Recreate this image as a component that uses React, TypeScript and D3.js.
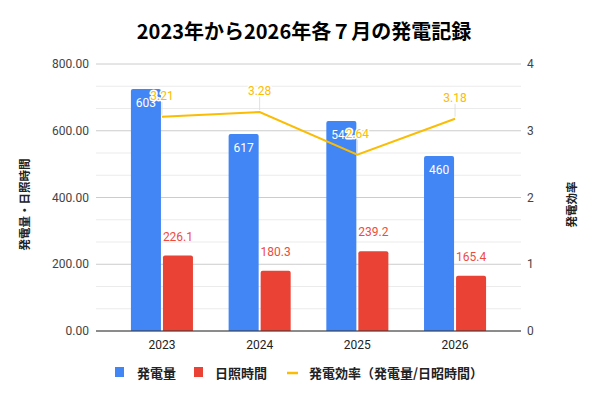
import React from "react";
import * as d3 from "d3";

const years = ["2023", "2024", "2025", "2026"];
const generation = [725, 590, 629, 524];
const generationLabels = ["603", "617", "542", "460"];
const sunshine = [226.1, 180.3, 239.2, 165.4];
const efficiency = [3.21, 3.28, 2.64, 3.18];
const leftTicks = [0, 200, 400, 600, 800];
const rightTicks = [0, 1, 2, 3, 4];

const W = 600;
const H = 401;
const plot = { left: 96, right: 521, top: 64, bottom: 331 };
const BLUE = "#4285f4";
const RED = "#ea4335";
const YELLOW = "#fbbc04";
const FONT = "Roboto, 'Noto Sans CJK JP', sans-serif";
const JFONT = "'Noto Sans CJK JP', Roboto, sans-serif";

function topRoundedRect(x: number, y: number, w: number, h: number, r: number) {
  const rr = Math.min(r, h, w / 2);
  return `M${x},${y + h}V${y + rr}Q${x},${y} ${x + rr},${y}H${x + w - rr}Q${x + w},${y} ${x + w},${y + rr}V${y + h}Z`;
}

export default function App() {
  const x = d3
    .scaleBand<string>()
    .domain(years)
    .range([plot.left, plot.right])
    .paddingInner(0.365)
    .paddingOuter(0.3575);
  const inner = d3
    .scaleBand<number>()
    .domain([0, 1])
    .range([0, x.bandwidth()])
    .paddingInner(0.0625);
  const yL = d3.scaleLinear().domain([0, 800]).range([plot.bottom, plot.top]);
  const yR = d3.scaleLinear().domain([0, 4]).range([plot.bottom, plot.top]);
  const gridVals = d3.range(0, 800.001, 800 / 12);
  const cx = (y: string) => (x(y) as number) + x.bandwidth() / 2;
  const line = d3
    .line<number>()
    .x((_, i) => cx(years[i]))
    .y((d) => yR(d));

  return (
    <svg
      width={W}
      height={H}
      style={{ position: "absolute", left: 0, top: 0, background: "#fff" }}
      fontFamily={FONT}
    >
      <rect width={W} height={H} fill="#fff" />
      <text
        x={304}
        y={39}
        textAnchor="middle"
        fontSize={20}
        fontWeight="bold"
        fill="#000"
        fontFamily={JFONT}
      >
        2023年から2026年各７月の発電記録
      </text>

      {gridVals.map((v, i) => (
        <line
          key={i}
          x1={plot.left}
          x2={plot.right}
          y1={yL(v)}
          y2={yL(v)}
          stroke={i % 3 === 0 ? "#cccccc" : "#ebebeb"}
          strokeWidth={1}
        />
      ))}

      {leftTicks.map((t) => (
        <text key={t} x={89} y={yL(t) + 4} textAnchor="end" fontSize={12} fill="#444">
          {t.toFixed(2)}
        </text>
      ))}
      {rightTicks.map((t) => (
        <text key={t} x={527} y={yR(t) + 4} textAnchor="start" fontSize={12} fill="#444">
          {t}
        </text>
      ))}

      {years.map((yr, i) => (
        <g key={yr}>
          <path
            d={topRoundedRect(
              (x(yr) as number) + (inner(0) as number),
              yL(generation[i]),
              inner.bandwidth(),
              yL(0) - yL(generation[i]),
              2
            )}
            fill={BLUE}
          />
          <path
            d={topRoundedRect(
              (x(yr) as number) + (inner(1) as number),
              yL(sunshine[i]),
              inner.bandwidth(),
              yL(0) - yL(sunshine[i]),
              2
            )}
            fill={RED}
          />
        </g>
      ))}

      <line x1={plot.left} x2={plot.right} y1={plot.bottom} y2={plot.bottom} stroke="#333" strokeWidth={1} />

      {years.map((yr, i) => (
        <text
          key={yr}
          x={(x(yr) as number) + (inner(0) as number) + inner.bandwidth() / 2}
          y={yL(generation[i]) + 17.5}
          textAnchor="middle"
          fontSize={12}
          fill="#fff"
        >
          {generationLabels[i]}
        </text>
      ))}
      {years.map((yr, i) => (
        <text
          key={yr}
          x={(x(yr) as number) + (inner(1) as number) + inner.bandwidth() / 2}
          y={yL(sunshine[i]) - 15}
          textAnchor="middle"
          fontSize={12}
          fill="#ee4b3e"
        >
          {sunshine[i].toFixed(1)}
        </text>
      ))}

      <path d={line(efficiency) || ""} fill="none" stroke={YELLOW} strokeWidth={2} />

      {years.map((yr, i) => (
        <line
          key={yr}
          x1={cx(yr)}
          x2={cx(yr)}
          y1={yR(efficiency[i]) - 15}
          y2={yR(efficiency[i]) - 2}
          stroke="#e0e0e0"
          strokeWidth={1}
        />
      ))}
      {years.map((yr, i) => (
        <text
          key={yr}
          x={cx(yr)}
          y={yR(efficiency[i]) - 17}
          textAnchor="middle"
          fontSize={12}
          fill={YELLOW}
          stroke="#fff"
          strokeWidth={3}
          strokeLinejoin="round"
          style={{ paintOrder: "stroke" }}
        >
          {efficiency[i].toFixed(2)}
        </text>
      ))}

      {years.map((yr) => (
        <text key={yr} x={cx(yr)} y={349} textAnchor="middle" fontSize={12} fill="#222">
          {yr}
        </text>
      ))}

      <text
        transform={`translate(29,${(plot.top + plot.bottom) / 2 + 7}) rotate(-90)`}
        textAnchor="middle"
        fontSize={11.5}
        fontWeight="bold"
        fill="#222"
        fontFamily={JFONT}
      >
        発電量・日照時間
      </text>
      <text
        transform={`translate(576,${(plot.top + plot.bottom) / 2 + 7}) rotate(-90)`}
        textAnchor="middle"
        fontSize={11.5}
        fontWeight="bold"
        fill="#222"
        fontFamily={JFONT}
      >
        発電効率
      </text>

      <g fontFamily={JFONT} fontSize={13} fontWeight="bold" fill="#222">
        <rect x={115} y={367} width={9} height={10} fill={BLUE} />
        <text x={137} y={377.5}>発電量</text>
        <rect x={194} y={367} width={9} height={10} fill={RED} />
        <text x={215} y={377.5}>日照時間</text>
        <line x1={287} x2={298} y1={373} y2={373} stroke={YELLOW} strokeWidth={2.5} />
        <text x={309} y={377.5}>発電効率（発電量/日昭時間）</text>
      </g>
    </svg>
  );
}
